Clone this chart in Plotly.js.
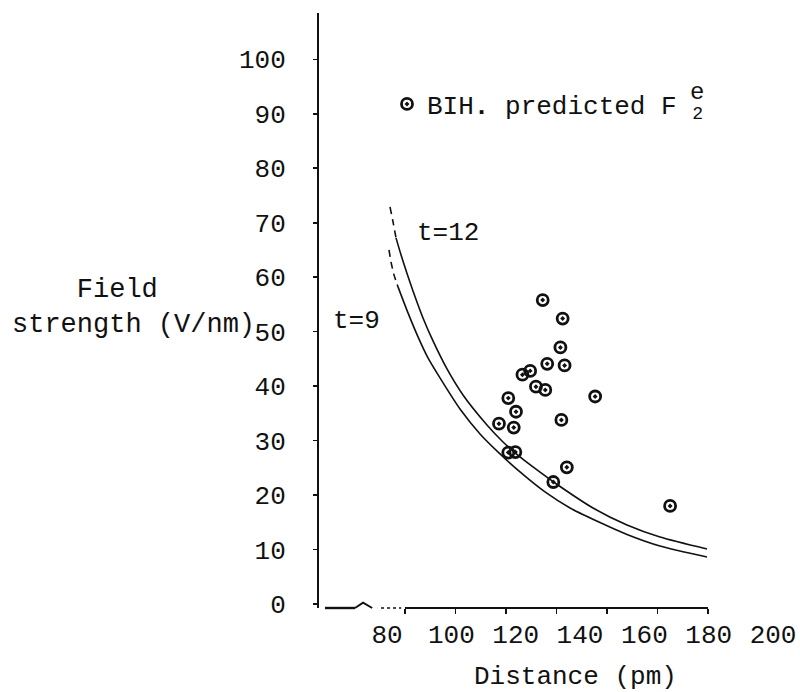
<!DOCTYPE html>
<html>
<head>
<meta charset="utf-8">
<script src="https://cdn.plot.ly/plotly-3.0.1.min.js"></script>
<style>
  html, body { margin: 0; padding: 0; background: #ffffff; }
  #chart { width: 800px; height: 692px; }
</style>
</head>
<body>
<div id="chart"></div>
<script>
// ---------- data ----------
const xTickVals = [80, 100, 120, 140, 160, 180, 200];
const xTickText = ["80", "100", "120", "140", "160", "180", "200"];
const yTickVals = [0, 10, 20, 30, 40, 50, 60, 70, 80, 90, 100];
const yTickText = ["0", "10", "20", "30", "40", "50", "60", "70", "80", "90", "100"];
// hand-drawn tick marks on the distance axis (their own scale)
const handTickVals = [80, 100, 120, 140, 160, 180, 200];

// BIH predicted F2e points: distance (pm), field strength (V/nm)
const bihDistance = [128.4, 134.6, 133.9, 129.8, 135.2, 122.1, 124.5, 126.3, 129.2, 144.7,
                     117.7, 120.1, 134.2, 114.8, 119.4, 117.7, 119.9, 135.9, 131.7, 168.0];
const bihField    = [55.8, 52.4, 47.1, 44.1, 43.8, 42.1, 42.8, 39.9, 39.3, 38.1,
                     37.8, 35.3, 33.8, 33.1, 32.4, 27.8, 27.9, 25.1, 22.4, 18.0];

// curve t=12 (upper)
const t12DashX = [80.93, 81.87, 82.80];
const t12DashY = [72.91, 70.16, 67.22];
const t12X = [82.80, 84.35, 86.22, 88.08, 91.19, 94.30, 98.65, 103.62, 111.08, 116.06,
              121.34, 126.63, 132.22, 144.03, 154.60, 164.86, 179.47];
const t12Y = [67.22, 64.10, 60.68, 57.48, 52.52, 48.30, 43.16, 38.38, 32.87, 29.75,
              27.00, 24.61, 22.22, 17.63, 14.51, 12.30, 10.10];

// curve t=9 (lower)
const t9DashX = [80.62, 81.24, 82.18, 83.42];
const t9DashY = [65.01, 62.81, 60.42, 58.22];
const t9X = [83.42, 86.53, 89.64, 92.74, 96.47, 102.69, 108.91, 115.13, 121.34, 129.11,
             136.89, 146.21, 154.60, 164.86, 179.47];
const t9Y = [58.22, 53.44, 49.04, 45.18, 41.51, 35.80, 31.22, 27.55, 24.24, 20.57,
             17.63, 14.96, 12.78, 10.65, 8.63];

// ---------- style ----------
const INK = "#111111";
const FONT = '"Liberation Mono", "DejaVu Sans Mono", monospace';
const W = 800, H = 692;
const M = { l: 319, r: 24, t: 13, b: 84 };
const plotW = W - M.l - M.r, plotH = H - M.t - M.b;
const px = (x) => (x - M.l) / plotW;          // pixel -> paper x
const py = (y) => (H - M.b - y) / plotH;      // pixel -> paper y

const lineStyle = { color: INK, width: 1.6, shape: "spline", smoothing: 0.7 };
const dashStyle = Object.assign({}, lineStyle, { dash: "7px,5px" });

const traces = [
  { x: t12DashX, y: t12DashY, mode: "lines", line: dashStyle, showlegend: false, hoverinfo: "skip" },
  { x: t12X, y: t12Y, mode: "lines", line: lineStyle, showlegend: false, hoverinfo: "skip" },
  { x: t9DashX, y: t9DashY, mode: "lines", line: dashStyle, showlegend: false, hoverinfo: "skip" },
  { x: t9X, y: t9Y, mode: "lines", line: lineStyle, showlegend: false, hoverinfo: "skip" },
  {
    x: bihDistance, y: bihField, mode: "markers",
    name: "BIH<b>.</b> predicted F\u00a0<sub>2</sub>",
    marker: { symbol: "circle-open-dot", size: 11, color: INK, line: { color: INK, width: 2.8 } },
    showlegend: true
  }
];

const layout = {
  width: W, height: H,
  margin: M,
  paper_bgcolor: "#ffffff",
  plot_bgcolor: "#ffffff",
  font: { family: FONT, color: INK, size: 26 },
  xaxis: {
    range: [58.86, 200.92],
    tickvals: xTickVals, ticktext: xTickText,
    ticks: "", showline: false, showgrid: false, zeroline: false,
    tickfont: { family: FONT, size: 26, color: INK },
    ticklabelstandoff: 8
  },
  xaxis2: {
    overlaying: "x", anchor: "y", side: "bottom",
    range: [45.94, 226.93],
    tickvals: handTickVals,
    ticks: "outside", ticklen: 5, tickwidth: 1.6, tickcolor: INK,
    showticklabels: false, showline: false, showgrid: false, zeroline: false
  },
  yaxis: {
    range: [-0.73, 108.5],
    tickvals: yTickVals, ticktext: yTickText,
    ticks: "outside", ticklen: 4, tickwidth: 1.6, tickcolor: INK,
    showline: true, linewidth: 2, linecolor: INK,
    showgrid: false, zeroline: false,
    tickfont: { family: FONT, size: 26, color: INK },
    ticklabelstandoff: 22
  },
  showlegend: true,
  legend: {
    x: px(387), y: py(104), xanchor: "left", yanchor: "middle",
    bgcolor: "rgba(0,0,0,0)", borderwidth: 0,
    font: { family: FONT, size: 26, color: INK },
    itemwidth: 30
  },
  shapes: [
    { type: "line", xref: "x2", yref: "paper", x0: 48.3, x1: 60.2, y0: 0, y1: 0, line: { color: INK, width: 2.4 } },
    { type: "path", xref: "x2", yref: "paper", path: "M 60.2,0 L 63.4,0.009 L 67,0.0", line: { color: INK, width: 2 } },
    { type: "line", xref: "x2", yref: "paper", x0: 70.5, x1: 78.5, y0: 0, y1: 0, line: { color: INK, width: 1.4, dash: "dot" } },
    { type: "line", xref: "x2", yref: "paper", x0: 80, x1: 200, y0: 0, y1: 0, line: { color: INK, width: 2 } }
  ],
  annotations: [
    { xref: "paper", yref: "paper", x: px(415), y: py(233), xanchor: "left", yanchor: "middle",
      text: "t=12", showarrow: false, font: { family: FONT, size: 26, color: INK } },
    { xref: "paper", yref: "paper", x: px(331), y: py(321), xanchor: "left", yanchor: "middle",
      text: "t=9", showarrow: false, font: { family: FONT, size: 26, color: INK } },
    { xref: "paper", yref: "paper", x: px(10), y: py(307), xanchor: "left", yanchor: "middle", align: "left",
      text: "\u00a0\u00a0\u00a0\u00a0Field<br>strength (V/nm)", showarrow: false,
      font: { family: FONT, size: 27, color: INK } },
    { xref: "paper", yref: "paper", x: px(575), y: py(694), xanchor: "center", yanchor: "bottom",
      text: "Distance (pm)", showarrow: false, font: { family: FONT, size: 26, color: INK } },
    { xref: "paper", yref: "paper", x: px(688), y: py(93), xanchor: "left", yanchor: "middle",
      text: "e", showarrow: false, font: { family: FONT, size: 24, color: INK } }
  ]
};

Plotly.newPlot("chart", traces, layout, { displayModeBar: false, staticPlot: true });
</script>
</body>
</html>
